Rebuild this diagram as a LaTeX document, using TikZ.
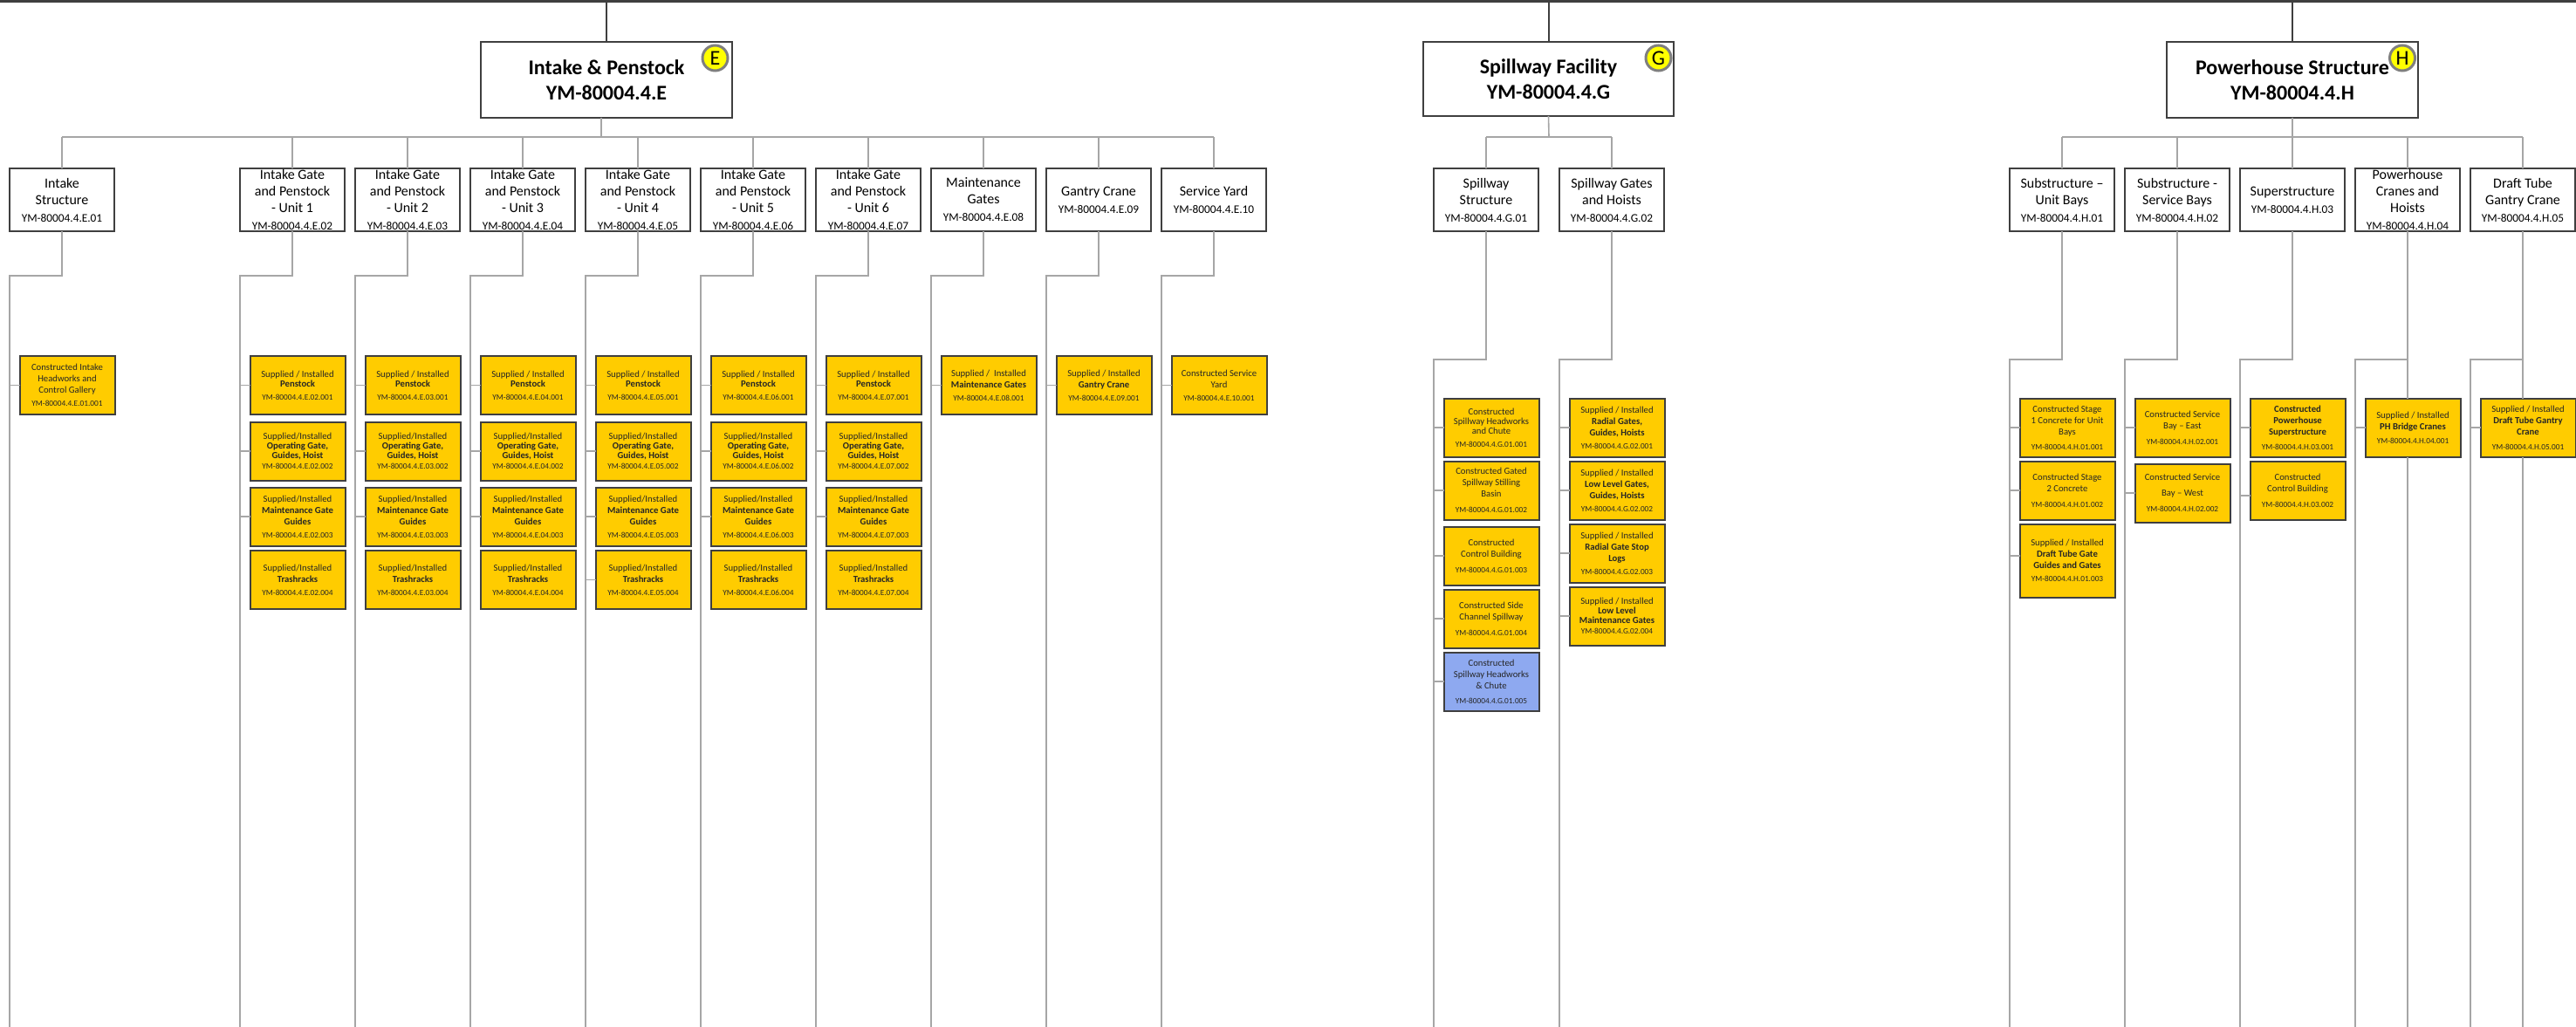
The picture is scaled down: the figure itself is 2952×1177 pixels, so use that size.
\documentclass[tikz,border=0pt]{standalone}
\usepackage{fontspec}
\setmainfont{Carlito}

\definecolor{boxline}{HTML}{3F3F3F}
\definecolor{linkgray}{HTML}{A6A6A6}
\definecolor{gold}{HTML}{FFCC00}
\definecolor{bluebox}{HTML}{8EA9F0}
\definecolor{badgefill}{HTML}{FFFF00}
\definecolor{badgering}{HTML}{7F7F7F}

\tikzset{
  l1box/.style={draw=boxline, line width=2.5pt, fill=white, minimum width=288pt, minimum height=87pt,
    inner sep=0pt, outer sep=0pt, align=center, font=\fontsize{24}{29}\selectfont\bfseries},
  l2box/.style={draw=boxline, line width=2pt, fill=white, minimum width=120pt, minimum height=72pt,
    inner sep=0pt, outer sep=0pt, align=center, anchor=north west, font=\fontsize{16}{19}\selectfont},
  l3box/.style={draw=boxline, line width=2pt, fill=gold, text=black!85, minimum width=109pt, minimum height=67pt,
    inner sep=0pt, outer sep=0pt, align=center, anchor=north west, font=\fontsize{10.7}{13}\selectfont},
  l3tight/.style={l3box, font=\fontsize{10.7}{11}\selectfont},
  badge/.style={circle, draw=badgering, line width=3pt, fill=badgefill, minimum size=29pt, inner sep=0pt,
    font=\fontsize{24}{24}\selectfont},
  link/.style={draw=linkgray, line width=1.6pt},
  trunk/.style={draw=boxline, line width=2pt},
}
\newcommand{\wbs}[1]{{\fontsize{9.3}{11}\selectfont #1}}
\newcommand{\wbsl}[1]{{\fontsize{13.3}{16}\selectfont #1}}

\begin{document}
\begin{tikzpicture}[x=1pt, y=-1pt]
    \useasboundingbox (0,0) rectangle (2952,1177);
    \path[fill=white] (0,0) rectangle (2952,1177);

    % 辅助坐标
    \coordinate (topL) at (0,1.5);
    \coordinate (topR) at (2952,1.5);
    \coordinate (busE) at (689,157);
    \coordinate (busG) at (1775,157);
    \coordinate (busH) at (2627,157);
    \coordinate (stepE) at (0,316);
    \coordinate (stepGH) at (0,412);
    \coordinate (foot) at (0,1177);

    % 第一层
    \node[l1box] (E) at (695,91.5) {Intake \& Penstock\\YM-80004.4.E};
    \node[l1box, minimum width=287pt, minimum height=85pt] (G) at (1774.5,90.5) {Spillway Facility\\YM-80004.4.G};
    \node[l1box] (H) at (2627,91.5) {Powerhouse Structure\\YM-80004.4.H};
    \node[badge] (bE) at (819.5,66.5) {E};
    \node[badge] (bG) at (1900.5,66.5) {G};
    \node[badge] (bH) at (2753,66.5) {H};

    % 顶部横线
    \draw[trunk, line width=3.5pt] (topL) -- (topR);
    \draw[trunk] (E.north) -- (E.north |- topL);
    \draw[trunk] (G.north) -- (G.north |- topL);
    \draw[trunk] (H.north) -- (H.north |- topL);

    % 第二层 E
    \node[l2box] (e1) at (11,193) {Intake\\Structure\\[1pt]\wbsl{YM-80004.4.E.01}};
    \node[l2box] (e2) at (275,193) {Intake Gate\\and Penstock\\- Unit 1\\[1pt]\wbsl{YM-80004.4.E.02}};
    \node[l2box] (e3) at (407,193) {Intake Gate\\and Penstock\\- Unit 2\\[1pt]\wbsl{YM-80004.4.E.03}};
    \node[l2box] (e4) at (539,193) {Intake Gate\\and Penstock\\- Unit 3\\[1pt]\wbsl{YM-80004.4.E.04}};
    \node[l2box] (e5) at (671,193) {Intake Gate\\and Penstock\\- Unit 4\\[1pt]\wbsl{YM-80004.4.E.05}};
    \node[l2box] (e6) at (803,193) {Intake Gate\\and Penstock\\- Unit 5\\[1pt]\wbsl{YM-80004.4.E.06}};
    \node[l2box] (e7) at (935,193) {Intake Gate\\and Penstock\\- Unit 6\\[1pt]\wbsl{YM-80004.4.E.07}};
    \node[l2box] (e8) at (1067,193) {Maintenance\\Gates\\[1pt]\wbsl{YM-80004.4.E.08}};
    \node[l2box] (e9) at (1199,193) {Gantry Crane\\[1pt]\wbsl{YM-80004.4.E.09}};
    \node[l2box] (e10) at (1331,193) {Service Yard\\[1pt]\wbsl{YM-80004.4.E.10}};

    % 第二层 G
    \node[l2box] (g1) at (1643,193) {Spillway\\Structure\\[1pt]\wbsl{YM-80004.4.G.01}};
    \node[l2box] (g2) at (1787,193) {Spillway Gates\\and Hoists\\[1pt]\wbsl{YM-80004.4.G.02}};

    % 第二层 H
    \node[l2box] (h1) at (2303,193) {Substructure –\\Unit Bays\\[1pt]\wbsl{YM-80004.4.H.01}};
    \node[l2box] (h2) at (2435,193) {Substructure -\\Service Bays\\[1pt]\wbsl{YM-80004.4.H.02}};
    \node[l2box] (h3) at (2567,193) {Superstructure\\[1pt]\wbsl{YM-80004.4.H.03}};
    \node[l2box] (h4) at (2699,193) {Powerhouse\\Cranes and\\Hoists\\[1pt]\wbsl{YM-80004.4.H.04}};
    \node[l2box] (h5) at (2831,193) {Draft Tube\\Gantry Crane\\[1pt]\wbsl{YM-80004.4.H.05}};

    % 总线
    \draw[link] ([xshift=-6pt]E.south) -- (busE);
    \draw[link] (e1.north |- busE) -- (e10.north |- busE);
    \draw[link] (e1.north) -- (e1.north |- busE);
    \draw[link] (e2.north) -- (e2.north |- busE);
    \draw[link] (e3.north) -- (e3.north |- busE);
    \draw[link] (e4.north) -- (e4.north |- busE);
    \draw[link] (e5.north) -- (e5.north |- busE);
    \draw[link] (e6.north) -- (e6.north |- busE);
    \draw[link] (e7.north) -- (e7.north |- busE);
    \draw[link] (e8.north) -- (e8.north |- busE);
    \draw[link] (e9.north) -- (e9.north |- busE);
    \draw[link] (e10.north) -- (e10.north |- busE);
    \draw[link] (G.south) -- (busG);
    \draw[link] (g1.north |- busG) -- (g2.north |- busG);
    \draw[link] (g1.north) -- (g1.north |- busG);
    \draw[link] (g2.north) -- (g2.north |- busG);
    \draw[link] (H.south) -- (busH);
    \draw[link] (h1.north |- busH) -- (h5.north |- busH);
    \draw[link] (h1.north) -- (h1.north |- busH);
    \draw[link] (h2.north) -- (h2.north |- busH);
    \draw[link] (h3.north) -- (h3.north |- busH);
    \draw[link] (h4.north) -- (h4.north |- busH);
    \draw[link] (h5.north) -- (h5.north |- busH);

    % 第三层 E
    \node[l3box] (e1a) at (22.5,408) {Constructed Intake\\Headworks and\\Control Gallery\\[2pt]\wbs{YM-80004.4.E.01.001}};

    \node[l3tight] (e2a) at (286.5,408) {Supplied / Installed\\\textbf{Penstock}\\[4pt]\wbs{YM-80004.4.E.02.001}};
    \node[l3tight] (e2b) at (286.5,483.5) {Supplied/Installed\\\textbf{Operating Gate,}\\\textbf{Guides, Hoist}\\[1pt]\wbs{YM-80004.4.E.02.002}};
    \node[l3box] (e2c) at (286.5,558.5) {Supplied/Installed\\\textbf{Maintenance Gate}\\\textbf{Guides}\\[2pt]\wbs{YM-80004.4.E.02.003}};
    \node[l3box] (e2d) at (286.5,631) {Supplied/Installed\\\textbf{Trashracks}\\[2pt]\wbs{YM-80004.4.E.02.004}};

    \node[l3tight] (e3a) at (418.5,408) {Supplied / Installed\\\textbf{Penstock}\\[4pt]\wbs{YM-80004.4.E.03.001}};
    \node[l3tight] (e3b) at (418.5,483.5) {Supplied/Installed\\\textbf{Operating Gate,}\\\textbf{Guides, Hoist}\\[1pt]\wbs{YM-80004.4.E.03.002}};
    \node[l3box] (e3c) at (418.5,558.5) {Supplied/Installed\\\textbf{Maintenance Gate}\\\textbf{Guides}\\[2pt]\wbs{YM-80004.4.E.03.003}};
    \node[l3box] (e3d) at (418.5,631) {Supplied/Installed\\\textbf{Trashracks}\\[2pt]\wbs{YM-80004.4.E.03.004}};

    \node[l3tight] (e4a) at (550.5,408) {Supplied / Installed\\\textbf{Penstock}\\[4pt]\wbs{YM-80004.4.E.04.001}};
    \node[l3tight] (e4b) at (550.5,483.5) {Supplied/Installed\\\textbf{Operating Gate,}\\\textbf{Guides, Hoist}\\[1pt]\wbs{YM-80004.4.E.04.002}};
    \node[l3box] (e4c) at (550.5,558.5) {Supplied/Installed\\\textbf{Maintenance Gate}\\\textbf{Guides}\\[2pt]\wbs{YM-80004.4.E.04.003}};
    \node[l3box] (e4d) at (550.5,631) {Supplied/Installed\\\textbf{Trashracks}\\[2pt]\wbs{YM-80004.4.E.04.004}};

    \node[l3tight] (e5a) at (682.5,408) {Supplied / Installed\\\textbf{Penstock}\\[4pt]\wbs{YM-80004.4.E.05.001}};
    \node[l3tight] (e5b) at (682.5,483.5) {Supplied/Installed\\\textbf{Operating Gate,}\\\textbf{Guides, Hoist}\\[1pt]\wbs{YM-80004.4.E.05.002}};
    \node[l3box] (e5c) at (682.5,558.5) {Supplied/Installed\\\textbf{Maintenance Gate}\\\textbf{Guides}\\[2pt]\wbs{YM-80004.4.E.05.003}};
    \node[l3box] (e5d) at (682.5,631) {Supplied/Installed\\\textbf{Trashracks}\\[2pt]\wbs{YM-80004.4.E.05.004}};

    \node[l3tight] (e6a) at (814.5,408) {Supplied / Installed\\\textbf{Penstock}\\[4pt]\wbs{YM-80004.4.E.06.001}};
    \node[l3tight] (e6b) at (814.5,483.5) {Supplied/Installed\\\textbf{Operating Gate,}\\\textbf{Guides, Hoist}\\[1pt]\wbs{YM-80004.4.E.06.002}};
    \node[l3box] (e6c) at (814.5,558.5) {Supplied/Installed\\\textbf{Maintenance Gate}\\\textbf{Guides}\\[2pt]\wbs{YM-80004.4.E.06.003}};
    \node[l3box] (e6d) at (814.5,631) {Supplied/Installed\\\textbf{Trashracks}\\[2pt]\wbs{YM-80004.4.E.06.004}};

    \node[l3tight] (e7a) at (946.5,408) {Supplied / Installed\\\textbf{Penstock}\\[4pt]\wbs{YM-80004.4.E.07.001}};
    \node[l3tight] (e7b) at (946.5,483.5) {Supplied/Installed\\\textbf{Operating Gate,}\\\textbf{Guides, Hoist}\\[1pt]\wbs{YM-80004.4.E.07.002}};
    \node[l3box] (e7c) at (946.5,558.5) {Supplied/Installed\\\textbf{Maintenance Gate}\\\textbf{Guides}\\[2pt]\wbs{YM-80004.4.E.07.003}};
    \node[l3box] (e7d) at (946.5,631) {Supplied/Installed\\\textbf{Trashracks}\\[2pt]\wbs{YM-80004.4.E.07.004}};

    \node[l3box] (e8a) at (1078.5,408) {Supplied /~ Installed\\\textbf{Maintenance Gates}\\[2pt]\wbs{YM-80004.4.E.08.001}};
    \node[l3box] (e9a) at (1210.5,408) {Supplied / Installed\\\textbf{Gantry Crane}\\[2pt]\wbs{YM-80004.4.E.09.001}};
    \node[l3box] (e10a) at (1342.5,408) {Constructed Service\\Yard\\[2pt]\wbs{YM-80004.4.E.10.001}};

    % 第三层 G
    \node[l3tight] (g1a) at (1654.5,456.7) {Constructed\\Spillway Headworks\\and Chute\\[4pt]\wbs{YM-80004.4.G.01.001}};
    \node[l3box] (g1b) at (1654.5,528.7) {Constructed Gated\\Spillway Stilling\\Basin\\[5pt]\wbs{YM-80004.4.G.01.002}};
    \node[l3box] (g1c) at (1654.5,603.7) {Constructed\\Control Building\\[5pt]\wbs{YM-80004.4.G.01.003}};
    \node[l3box] (g1d) at (1654.5,675.7) {Constructed Side\\Channel Spillway\\[5pt]\wbs{YM-80004.4.G.01.004}};
    \node[l3box, fill=bluebox] (g1e) at (1654.5,747.7) {Constructed\\Spillway Headworks\\\& Chute\\[4pt]\wbs{YM-80004.4.G.01.005}};

    \node[l3box] (g2a) at (1798.5,456.7) {Supplied / Installed\\\textbf{Radial Gates,}\\\textbf{Guides, Hoists}\\[2pt]\wbs{YM-80004.4.G.02.001}};
    \node[l3box] (g2b) at (1798.5,528.7) {Supplied / Installed\\\textbf{Low Level Gates,}\\\textbf{Guides, Hoists}\\[2pt]\wbs{YM-80004.4.G.02.002}};
    \node[l3box] (g2c) at (1798.5,600.7) {Supplied / Installed\\\textbf{Radial Gate Stop}\\\textbf{Logs}\\[2pt]\wbs{YM-80004.4.G.02.003}};
    \node[l3tight] (g2d) at (1798.5,672.7) {Supplied / Installed\\\textbf{Low Level}\\\textbf{Maintenance Gates}\\[1pt]\wbs{YM-80004.4.G.02.004}};

    % 第三层 H
    \node[l3box] (h1a) at (2314.5,456.7) {Constructed Stage\\1 Concrete for Unit\\Bays\\[4pt]\wbs{YM-80004.4.H.01.001}};
    \node[l3box] (h1b) at (2314.5,528.7) {Constructed Stage\\2 Concrete\\[5pt]\wbs{YM-80004.4.H.01.002}};
    \node[l3box, minimum height=84pt] (h1c) at (2314.5,600.7) {Supplied / Installed\\\textbf{Draft Tube Gate}\\\textbf{Guides and Gates}\\[2pt]\wbs{YM-80004.4.H.01.003}};
    \node[l3box] (h2a) at (2446.5,456.7) {Constructed Service\\Bay – East\\[5pt]\wbs{YM-80004.4.H.02.001}};
    \node[l3box] (h2b) at (2446.5,531.7) {Constructed Service\\[5pt]Bay – West\\[5pt]\wbs{YM-80004.4.H.02.002}};
    \node[l3box] (h3a) at (2578.5,456.7) {\textbf{Constructed}\\\textbf{Powerhouse}\\\textbf{Superstructure}\\[4pt]\wbs{YM-80004.4.H.03.001}};
    \node[l3box] (h3b) at (2578.5,528.7) {Constructed\\Control Building\\[5pt]\wbs{YM-80004.4.H.03.002}};
    \node[l3box] (h4a) at (2710.5,456.7) {Supplied / Installed\\\textbf{PH Bridge Cranes}\\[3pt]\wbs{YM-80004.4.H.04.001}};
    \node[l3box] (h5a) at (2842.5,456.7) {Supplied / Installed\\\textbf{Draft Tube Gantry}\\\textbf{Crane}\\[4pt]\wbs{YM-80004.4.H.05.001}};

    % 竖线 E
    \draw[link] (e1.south) -- (e1.south |- stepE) -| (e1.west |- foot);
    \draw[link] (e2.south) -- (e2.south |- stepE) -| (e2.west |- foot);
    \draw[link] (e3.south) -- (e3.south |- stepE) -| (e3.west |- foot);
    \draw[link] (e4.south) -- (e4.south |- stepE) -| (e4.west |- foot);
    \draw[link] (e5.south) -- (e5.south |- stepE) -| (e5.west |- foot);
    \draw[link] (e6.south) -- (e6.south |- stepE) -| (e6.west |- foot);
    \draw[link] (e7.south) -- (e7.south |- stepE) -| (e7.west |- foot);
    \draw[link] (e8.south) -- (e8.south |- stepE) -| (e8.west |- foot);
    \draw[link] (e9.south) -- (e9.south |- stepE) -| (e9.west |- foot);
    \draw[link] (e10.south) -- (e10.south |- stepE) -| (e10.west |- foot);

    % 短横线 E
    \draw[link] (e1a.west) -- (e1a.west -| e1.west);
    \draw[link] (e2a.west) -- (e2a.west -| e2.west);
    \draw[link] (e2b.west) -- (e2b.west -| e2.west);
    \draw[link] (e2c.west) -- (e2c.west -| e2.west);
    \draw[link] (e3a.west) -- (e3a.west -| e3.west);
    \draw[link] (e3b.west) -- (e3b.west -| e3.west);
    \draw[link] (e3c.west) -- (e3c.west -| e3.west);
    \draw[link] (e4a.west) -- (e4a.west -| e4.west);
    \draw[link] (e4b.west) -- (e4b.west -| e4.west);
    \draw[link] (e4c.west) -- (e4c.west -| e4.west);
    \draw[link] (e5a.west) -- (e5a.west -| e5.west);
    \draw[link] (e5b.west) -- (e5b.west -| e5.west);
    \draw[link] (e5c.west) -- (e5c.west -| e5.west);
    \draw[link] (e5d.west) -- (e5d.west -| e5.west);
    \draw[link] (e6a.west) -- (e6a.west -| e6.west);
    \draw[link] (e6b.west) -- (e6b.west -| e6.west);
    \draw[link] (e6c.west) -- (e6c.west -| e6.west);
    \draw[link] (e7a.west) -- (e7a.west -| e7.west);
    \draw[link] (e7b.west) -- (e7b.west -| e7.west);
    \draw[link] (e7c.west) -- (e7c.west -| e7.west);
    \draw[link] (e8a.west) -- (e8a.west -| e8.west);
    \draw[link] (e9a.west) -- (e9a.west -| e9.west);
    \draw[link] (e10a.west) -- (e10a.west -| e10.west);

    % 竖线与短横线 G
    \draw[link] (g1.south) -- (g1.south |- stepGH) -| (g1.west |- foot);
    \draw[link] (g2.south) -- (g2.south |- stepGH) -| (g2.west |- foot);
    \draw[link] (g1a.west) -- (g1a.west -| g1.west);
    \draw[link] (g1b.west) -- (g1b.west -| g1.west);
    \draw[link] (g1c.west) -- (g1c.west -| g1.west);
    \draw[link] (g1d.west) -- (g1d.west -| g1.west);
    \draw[link] (g1e.west) -- (g1e.west -| g1.west);
    \draw[link] (g2a.west) -- (g2a.west -| g2.west);
    \draw[link] (g2b.west) -- (g2b.west -| g2.west);
    \draw[link] (g2c.west) -- (g2c.west -| g2.west);
    \draw[link] (g2d.west) -- (g2d.west -| g2.west);

    % 竖线与短横线 H
    \draw[link] (h1.south) -- (h1.south |- stepGH) -| (h1.west |- foot);
    \draw[link] (h2.south) -- (h2.south |- stepGH) -| (h2.west |- foot);
    \draw[link] (h3.south) -- (h3.south |- stepGH) -| (h3.west |- foot);
    \draw[link] (h4.south |- stepGH) -| (h4.west |- foot);
    \draw[link] (h5.south |- stepGH) -| (h5.west |- foot);
    \draw[link] (h4.south) -- (h4.south |- h4a.north);
    \draw[link] (h4.south |- h4a.south) -- (h4.south |- foot);
    \draw[link] (h5.south) -- (h5.south |- h5a.north);
    \draw[link] (h5.south |- h5a.south) -- (h5.south |- foot);
    \draw[link] (h1a.west) -- (h1a.west -| h1.west);
    \draw[link] (h1b.west) -- (h1b.west -| h1.west);
    \draw[link] ([yshift=6pt]h1c.west) -- ([yshift=6pt]h1c.west -| h1.west);
    \draw[link] (h2a.west) -- (h2a.west -| h2.west);
    \draw[link] (h2b.west) -- (h2b.west -| h2.west);
    \draw[link] (h3a.west) -- (h3a.west -| h3.west);
    \draw[link] ([yshift=-5.5pt]h3b.west) -- ([yshift=-5.5pt]h3b.west -| h3.west);
    \draw[link] (h4a.west) -- (h4a.west -| h4.west);
    \draw[link] (h5a.west) -- (h5a.west -| h5.west);
\end{tikzpicture}
\end{document}
